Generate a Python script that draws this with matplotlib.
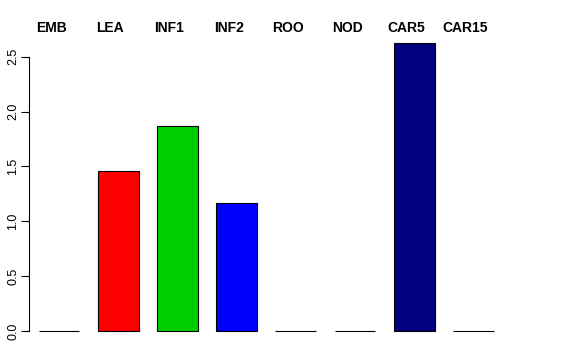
import matplotlib
matplotlib.use("Agg")
import matplotlib.pyplot as plt
import matplotlib.transforms as mtransforms

# Daten
tissues = ['EMB', 'LEA', 'INF1', 'INF2', 'ROO', 'NOD', 'CAR5', 'CAR15']
values = [0.0, 1.46, 1.87, 1.165, 0.0, 0.0, 2.63, 0.0]
colors = ['white', 'red', '#00CD00', 'blue', 'white', 'white', '#000080', 'white']

plt.rcParams['font.family'] = ['Liberation Sans', 'DejaVu Sans']

fig = plt.figure(figsize=(5.76, 3.6), dpi=100)
ax = fig.add_axes([29 / 576, 17.5 / 360, 474 / 576, 311.5 / 360])

x = list(range(len(tissues)))
ax.bar(x, values, width=0.69, color=colors, edgecolor='black', linewidth=0.8)

ax.set_xlim(-0.507, 7.5)
ax.set_ylim(-0.105, 2.735)

# Achsen im R-Stil
for s in ['top', 'right', 'bottom']:
    ax.spines[s].set_visible(False)
ax.spines['left'].set_bounds(0, 2.5)
ax.spines['left'].set_linewidth(0.8)
ax.set_xticks([])
ax.set_yticks([0, 0.5, 1.0, 1.5, 2.0, 2.5])
ax.set_yticklabels(['0.0', '0.5', '1.0', '1.5', '2.0', '2.5'], rotation=90, va='center', fontsize=9)
ax.tick_params(axis='y', length=5.8, width=0.8, pad=1)

# Beschriftungen oben (leicht nach links versetzt wie im Original)
offset = mtransforms.ScaledTranslation(-8 / 100, 0, fig.dpi_scale_trans)
trans = mtransforms.blended_transform_factory(ax.transData, fig.transFigure) + offset
for xi, name in zip(x, tissues):
    ax.text(xi, 1 - 28 / 360, name, transform=trans, ha='center', va='center',
            fontsize=10, fontweight='bold', clip_on=False)

fig.savefig('out.png', dpi=100)
